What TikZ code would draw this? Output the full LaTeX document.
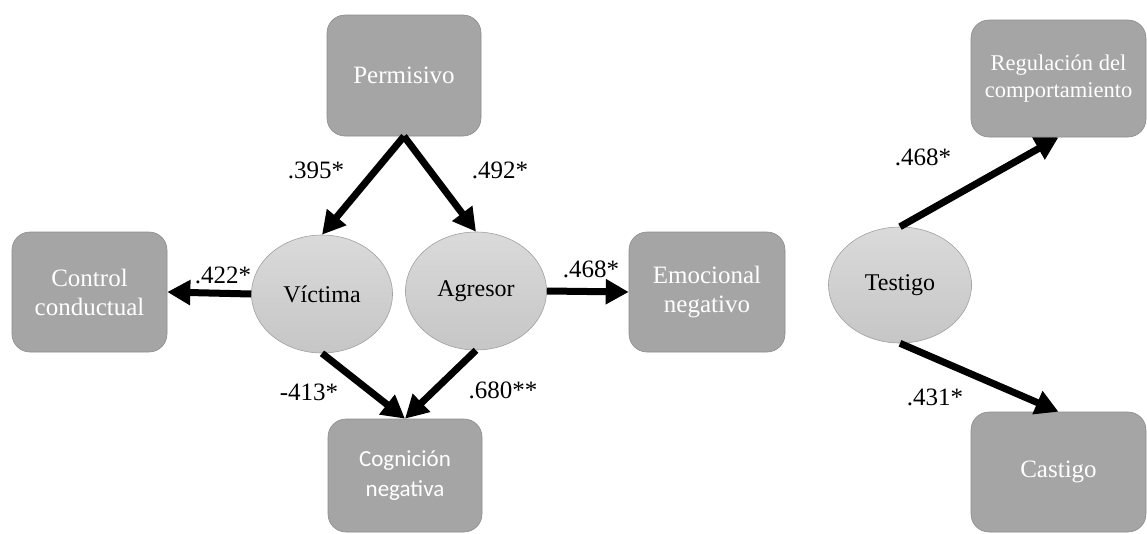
\documentclass[tikz,border=0pt]{standalone}
\usepackage{fontspec}
\setmainfont{Liberation Serif}
\newfontfamily\calfont{Carlito}
\usetikzlibrary{shapes.geometric,arrows.meta}
\definecolor{boxfill}{RGB}{165,165,165}
\definecolor{boxline}{RGB}{140,140,140}
\definecolor{elltop}{RGB}{218,218,218}
\definecolor{ellbot}{RGB}{198,198,198}
\definecolor{ellline}{RGB}{160,160,160}
\tikzset{
  boxnode/.style={draw=boxline, line width=0.6pt, fill=boxfill, rounded corners=18pt,
    text=white, align=center, inner sep=0pt, font=\fontsize{25}{29}\selectfont},
  ellnode/.style={ellipse, draw=ellline, line width=0.6pt, top color=elltop, bottom color=ellbot,
    inner sep=0pt, minimum width=141pt, minimum height=118pt, font=\fontsize{24}{28}\selectfont},
  coef/.style={font=\fontsize{25}{28}\selectfont, inner sep=0pt},
  path/.style={line width=7pt, -{Triangle[length=23pt,width=24pt]}}
}
\begin{document}
\begin{tikzpicture}[x=1pt,y=-1pt]
\useasboundingbox (0,0) rectangle (1147,533);
% boxes
\node[boxnode, minimum width=154pt, minimum height=121pt] (perm) at (404,75.5) {Permisivo};
\node[boxnode, minimum width=155pt, minimum height=120pt] (ctrl) at (89.5,292) {Control\\conductual};
\node[boxnode, minimum width=156pt, minimum height=120pt] (emo) at (707,292) {Emocional\\negativo};
\node[boxnode, minimum width=154pt, minimum height=113pt, font=\calfont\fontsize{23}{30}\selectfont] (cog) at (405,475.5) {Cognición\\negativa};
\node[boxnode, minimum width=175pt, minimum height=117pt, font=\fontsize{22.5}{27}\selectfont] (reg) at (1058.5,78.5) {Regulación del\\comportamiento};
\node[boxnode, minimum width=175pt, minimum height=120pt] (cast) at (1058.5,472) {Castigo};
% ellipses
\node[ellnode] (vic) at (322,294) {Víctima};
\node[ellnode] (agr) at (476,291) {Agresor};
\node[ellnode, minimum width=143pt, minimum height=116pt] (tes) at (900,285) {Testigo};
% paths
\draw[path] (perm.south) -- (vic.north);
\draw[path] (perm.south) -- (agr.north);
\draw[path] (vic.west) -- (ctrl.east);
\draw[path] (agr.east) -- (emo.west);
\draw[path] (vic.south) -- (cog.north);
\draw[path] (agr.south) -- (cog.north);
\draw[path] (tes.north) -- (reg.south);
\draw[path] (tes.south) -- (cast.north);
% coefficients
\node[coef] (c1) at (316,170) {.395*};
\node[coef] (c2) at (500,170) {.492*};
\node[coef] (c3) at (223,275) {.422*};
\node[coef] (c4) at (591,269) {.468*};
\node[coef] (c5) at (309,392) {-413*};
\node[coef] (c6) at (503,390) {.680**};
\node[coef] (c7) at (923,157) {.468*};
\node[coef] (c8) at (935,397) {.431*};
\end{tikzpicture}
\end{document}
